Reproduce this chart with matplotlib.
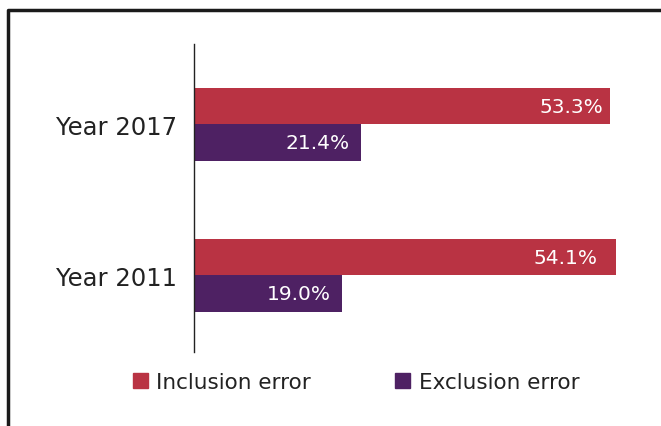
import numpy as np
import matplotlib.pyplot as plt
from matplotlib.lines import Line2D
from matplotlib.patches import Patch

years = ["Year 2011", "Year 2017"]
inclusion = [54.1, 53.3]
exclusion = [19.0, 21.4]
series_names = ["Inclusion error", "Exclusion error"]
colors = ["#B93343", "#4E2163"]

W, H = 661, 427
fig = plt.figure(figsize=(W / 100, H / 100), dpi=100)
ax = fig.add_axes([194 / W, 1 - 353 / H, (640 - 194) / W, (353 - 45) / H])

y = np.arange(len(years))
bh = 0.24
ax.barh(y + bh / 2, inclusion, height=bh, color=colors[0])
ax.barh(y - bh / 2, exclusion, height=bh, color=colors[1])

# label offsets from bar end (pixels), per year
inc_off = [-18, -6]
exc_off = [-11, -11]
for yy, v, o in zip(y + bh / 2, inclusion, inc_off):
    ax.annotate(f"{v:.1f}%", (v, yy), xytext=(o, 0), textcoords="offset pixels",
                ha="right", va="center", color="white", fontsize=14.5)
for yy, v, o in zip(y - bh / 2, exclusion, exc_off):
    ax.annotate(f"{v:.1f}%", (v, yy), xytext=(o, 0), textcoords="offset pixels",
                ha="right", va="center", color="white", fontsize=14.5)

ax.set_xlim(0, (640 - 194) / 7.8)
ax.set_ylim(-0.507, 1.533)
ax.set_yticks(y)
ax.set_yticklabels(years, fontsize=17.5, color="#222222")
ax.tick_params(axis="y", length=0, pad=12)
ax.set_xticks([])
for s in ["top", "right", "bottom"]:
    ax.spines[s].set_visible(False)
ax.spines["left"].set_color("#222222")
ax.spines["left"].set_linewidth(1.0)

handles = [Patch(color=c, label=n) for c, n in zip(colors, series_names)]
fig.legend(handles=handles, loc="center", bbox_to_anchor=(356 / W, 1 - 383 / H),
           ncol=2, frameon=False, fontsize=15.5, handlelength=0.7, handleheight=0.7,
           handletextpad=0.4, columnspacing=3.9, labelcolor="#222222")

# partial frame around the figure
fig.add_artist(Line2D([8 / W, 8 / W, 1], [0, 1 - 11 / H, 1 - 11 / H],
                      transform=fig.transFigure, color="#1a1a1a", linewidth=2.5))

fig.savefig("out.png", dpi=100)
